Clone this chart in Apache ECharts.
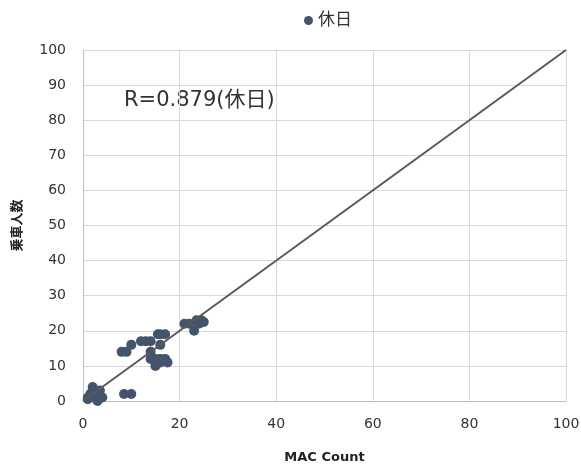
<!DOCTYPE html>
<html><head><meta charset="utf-8">
<script src="https://cdn.jsdelivr.net/npm/echarts@6/dist/echarts.min.js"></script>
<style>html,body{margin:0;padding:0;background:#fff}#c{width:581px;height:466px}</style>
</head><body><div id="c"></div>
<script>
var seriesName = '休日';
var macCount = [1,1.5,2,2,2.5,3,3,3.5,3.5,4,1,2,3, 8.5,10, 8,9,10, 12,13,14, 14,14, 15.5,16,17, 16, 15,16,17,17.5,15,15,16, 21,22, 23.5,24,24.5,25, 23];
var riders   = [1,2,4,3,1,0,2,3,1,1,0.5,2,0.5, 2,2, 14,14,16, 17,17,17, 14,12, 19,19,19, 16, 12,12,12,11,10,11,11, 22,22, 23,22,23,22.5, 20];
var refLine = [[0,0],[100,100]];
var xTicks = [0,20,40,60,80,100];
var yTicks = [0,10,20,30,40,50,60,70,80,90,100];
var annotation = 'R=0.879(休日)';
var xTitle = 'MAC Count';
var yTitle = '乗車人数';

var pts = macCount.map(function(v,i){return [v, riders[i]];});
var font = '"DejaVu Sans", "Noto Sans CJK JP", sans-serif';
var chart = echarts.init(document.getElementById('c'));
chart.setOption({
  animation:false,
  textStyle:{fontFamily:font},
  legend:{top:7,left:299,itemWidth:9,itemHeight:9,itemGap:5,data:[{name:seriesName,icon:'circle'}],textStyle:{fontSize:17,color:'#333',fontFamily:font}},
  grid:{left:83,right:15,top:50,bottom:65,containLabel:false,outerBoundsMode:'none'},
  xAxis:{type:'value',min:0,max:100,interval:20,
    name:xTitle,nameLocation:'middle',nameGap:50,nameTextStyle:{fontWeight:'bold',fontSize:13,color:'#222',fontFamily:font},
    axisLine:{lineStyle:{color:'#bfbfbf'}},axisTick:{show:false},
    axisLabel:{fontSize:14,color:'#333',margin:16,fontFamily:font},
    splitLine:{lineStyle:{color:'#d9d9d9'}}},
  yAxis:{type:'value',min:0,max:100,interval:10,
    name:yTitle,nameLocation:'middle',nameGap:59,nameTextStyle:{fontWeight:'bold',fontSize:13,color:'#222',fontFamily:font},
    axisLine:{show:true,lineStyle:{color:'#bfbfbf'}},axisTick:{show:false},
    axisLabel:{fontSize:14,color:'#333',margin:17,fontFamily:font},
    splitLine:{lineStyle:{color:'#d9d9d9'}}},
  graphic:[{type:'text',left:124,top:90,style:{text:annotation,fontSize:21,fill:'#333',fontFamily:font}}],
  series:[
    {name:seriesName,type:'scatter',data:pts,symbolSize:10,itemStyle:{color:'#44546A',opacity:1},z:3},
    {name:'ref',type:'line',data:refLine,symbol:'none',lineStyle:{color:'#595959',width:2},z:4,silent:true}
  ]
});
</script></body></html>
